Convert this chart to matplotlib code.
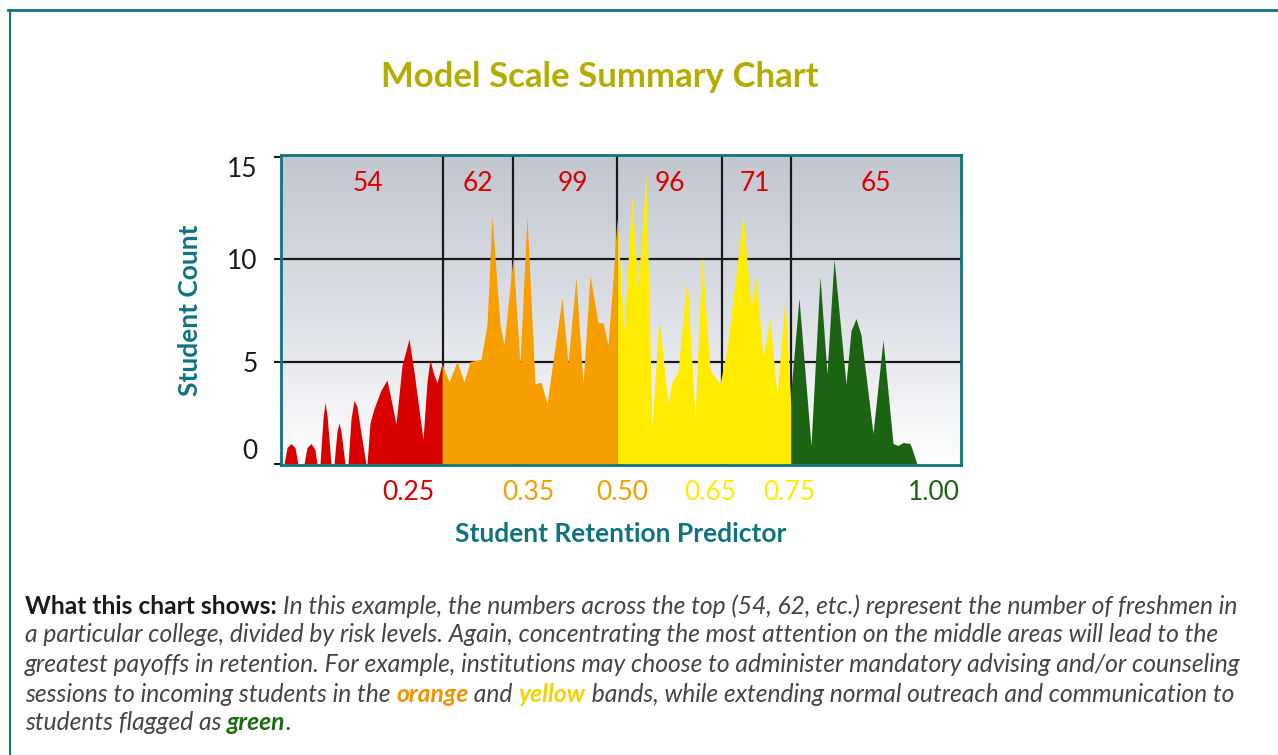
import matplotlib
matplotlib.use('Agg')
import matplotlib.pyplot as plt
from matplotlib.lines import Line2D
from matplotlib.colors import LinearSegmentedColormap
import numpy as np

# band outlines: position along the predictor strip (0-680) and student count
red_x = [3, 6, 10, 14, 17, 23, 26, 30, 34, 36, 39, 42, 44, 46, 50, 53, 56, 58, 60, 64,
         67, 70, 73, 76, 80, 85, 86, 89, 93, 100, 106, 109, 115, 121, 128, 133, 142, 146, 149, 152, 156, 161]
red_y = [0, 0.8, 1.0, 0.8, 0, 0, 0.8, 1.0, 0.7, 0, 0, 2.2, 3.0, 2.4, 0, 0, 1.6, 2.0, 1.6, 0,
         0, 2.2, 3.1, 2.8, 1.5, 0, 0, 2.0, 2.7, 3.6, 4.1, 3.4, 1.95, 4.8, 6.1, 4.5, 1.2, 4.0, 5.1, 4.5, 3.95, 4.9]

orange_x = [161, 168, 176, 183, 189, 200, 206, 211, 219, 223, 232, 239, 246, 254, 260, 266,
            281, 287, 295, 302, 309, 317, 322, 327, 332, 336]
orange_y = [4.9, 4.0, 5.0, 4.0, 5.0, 5.1, 6.8, 12.1, 6.8, 5.8, 10.1, 4.9, 12.1, 3.9, 4.0, 2.95,
            8.1, 4.9, 9.1, 3.9, 9.2, 6.9, 6.9, 5.8, 9.0, 12.0]

yellow_x = [336, 343, 351, 357, 365, 371, 378, 387, 391, 397, 406, 414, 421, 429, 439, 446,
            454, 462, 470, 475, 482, 489, 496, 504, 510]
yellow_y = [12.0, 6.5, 13.1, 8.6, 14.2, 1.8, 7.1, 3.0, 4.0, 4.5, 9.1, 2.3, 10.1, 4.6, 3.9, 5.6,
            8.8, 12.2, 7.6, 9.15, 5.2, 7.1, 3.3, 8.1, 2.8]

green_x = [510, 518, 530, 539, 546, 553, 565, 570, 575, 580, 592, 602, 612, 617, 622, 629, 632, 636]
green_y = [3.6, 8.1, 0.9, 9.15, 4.4, 10.0, 3.9, 6.5, 7.1, 6.3, 1.5, 6.05, 1.0, 0.9, 1.05, 1.0, 0.6, 0]

band_edges = [162, 232, 336, 441, 510]
count_pos = [87, 197, 292, 389, 474, 595]
count_labels = ['54', '62', '99', '96', '71', '65']

tick_pos = [127, 247, 341, 429, 508, 653]
tick_labels = ['0.25', '0.35', '0.50', '0.65', '0.75', '1.00']

RED = '#d90000'
ORANGE = '#f79e00'
YELLOW = '#ffec00'
GREEN = '#1c6413'
TEAL = '#0f7480'
tick_colors = [RED, ORANGE, ORANGE, YELLOW, YELLOW, GREEN]

plt.rcParams['font.family'] = ['Lato', 'DejaVu Sans']

W, H = 1278, 755
fig = plt.figure(figsize=(W / 100, H / 100), dpi=100)
ax = fig.add_axes([281 / W, 1 - 465 / H, 680 / W, 310 / H])

# grey at the top fading to white at the bottom
grad = np.linspace(1, 0, 256).reshape(-1, 1)
bg = LinearSegmentedColormap.from_list('bg', ['#c2c6cf', '#dcdfe5', '#ffffff'])
ax.imshow(grad, cmap=bg, aspect='auto', origin='lower', extent=[0, 680, -0.05, 15.08], zorder=0)
ax.set_xlim(0, 680)
ax.set_ylim(-0.05, 15.08)

for v in [5, 10]:
    ax.axhline(v, color='#1a1a1a', lw=1.6, zorder=1)
for e in band_edges:
    ax.axvline(e, color='#1a1a1a', lw=1.6, zorder=1)

for xs, ys, c in [(red_x, red_y, RED), (orange_x, orange_y, ORANGE),
                  (yellow_x, yellow_y, YELLOW), (green_x, green_y, GREEN)]:
    ax.fill_between(xs, 0, ys, color=c, lw=0, zorder=2)

for p, lab in zip(count_pos, count_labels):
    ax.text(p, 13.7, lab, color=RED, fontsize=19, ha='center', va='center', zorder=3)

for s in ax.spines.values():
    s.set_color(TEAL)
    s.set_linewidth(2)
    s.set_zorder(4)

ax.set_yticks([0, 5, 10, 15])
ax.set_yticklabels(['0', '5', '10', '15'], fontsize=19)
ax.tick_params(axis='y', length=5, width=1.5, color='#1a1a1a', pad=12, labelcolor='#1a1a1a')
ylabs = ax.get_yticklabels()
ylabs[0].set_va('bottom')
ylabs[-1].set_va('top')
ax.set_xticks(tick_pos)
ax.set_xticklabels(tick_labels, fontsize=19)
ax.tick_params(axis='x', length=0, pad=11)
for t, c in zip(ax.get_xticklabels(), tick_colors):
    t.set_color(c)

ax.set_ylabel('Student Count', fontsize=19, fontweight='bold', color=TEAL, labelpad=18)
ax.set_xlabel('Student Retention Predictor', fontsize=19, fontweight='bold', color=TEAL, labelpad=12)

fig.text(600 / W, 1 - 77 / H, 'Model Scale Summary Chart', fontsize=25, fontweight='bold',
         color='#b5ac00', ha='center', va='center')

# page frame
fig.add_artist(Line2D([8 / W, 1], [1 - 9.5 / H, 1 - 9.5 / H], color=TEAL, lw=2))
fig.add_artist(Line2D([9.5 / W, 9.5 / W], [0, 1 - 9.5 / H], color=TEAL, lw=1.5))

# caption with mixed styles
TEXT = '#444444'
normal = dict(style='italic', weight='normal', color=TEXT)
caption = [
    [("What this chart shows: ", dict(style='normal', weight='bold', color='#1a1a1a')),
     ("In this example, the numbers across the top (54, 62, etc.) represent the number of freshmen in", normal)],
    [("a particular college, divided by risk levels. Again, concentrating the most attention on the middle areas will lead to the", normal)],
    [("greatest payoffs in retention. For example, institutions may choose to administer mandatory advising and/or counseling", normal)],
    [("sessions to incoming students in the ", normal),
     ("orange", dict(style='italic', weight='bold', color='#f39200')),
     (" and ", normal),
     ("yellow", dict(style='italic', weight='bold', color='#f7d000')),
     (" bands, while extending normal outreach and communication to", normal)],
    [("students flagged as ", normal),
     ("green", dict(style='italic', weight='bold', color='#1b6b12')),
     (".", normal)],
]
line_y = [606, 635, 665, 694, 722]
renderer = fig.canvas.get_renderer()
for runs, yy in zip(caption, line_y):
    x = 25
    for txt, st in runs:
        t = fig.text(x / W, 1 - yy / H, txt, fontsize=17.7, ha='left', va='center', **st)
        bb = t.get_window_extent(renderer=renderer)
        x += bb.width

fig.savefig('out.png', dpi=100)
